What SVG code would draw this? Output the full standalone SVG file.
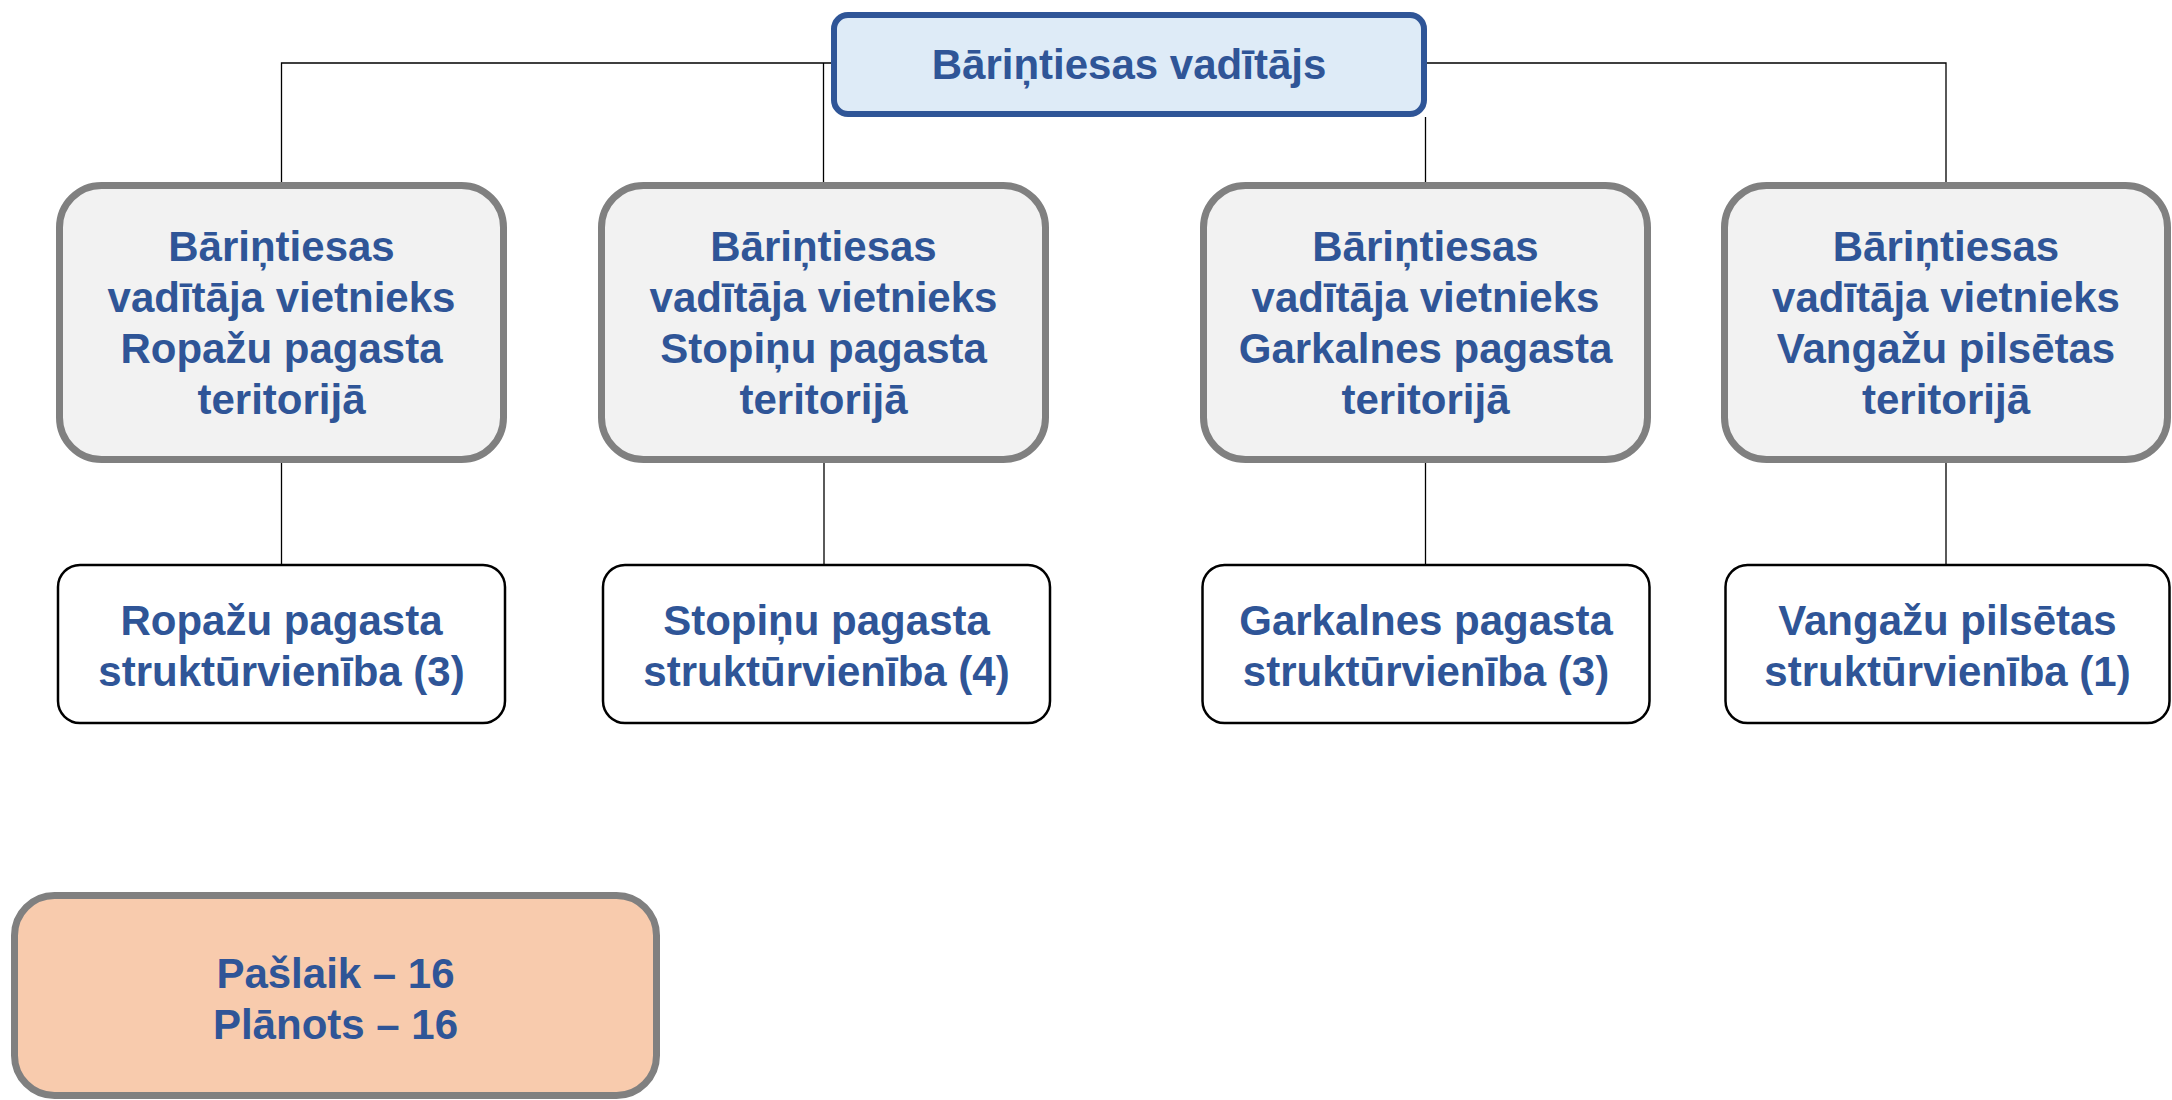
<svg xmlns="http://www.w3.org/2000/svg" width="2172" height="1100" viewBox="0 0 2172 1100">
<style>
.t{font-family:"Liberation Sans",Arial,sans-serif;font-weight:bold;font-size:42px;fill:#2F5597;text-anchor:middle}
.mid{fill:#F2F2F2;stroke:#808080;stroke-width:7}
.bot{fill:#FFFFFF;stroke:#000000;stroke-width:2.5}
.con{fill:none;stroke:#000000;stroke-width:1.3}
</style>
<rect width="2172" height="1100" fill="#FFFFFF"/>
<g id="connectors">
<path class="con" d="M281.5,184 V63 H834"/>
<path class="con" d="M823.5,184 V63"/>
<path class="con" d="M1424,63 H1946 V184"/>
<path class="con" d="M1425.5,117 V184"/>
<path class="con" d="M281.5,463 V565"/>
<path class="con" d="M824,463 V565"/>
<path class="con" d="M1425.5,463 V565"/>
<path class="con" d="M1946,463 V565"/>
</g>
<g id="head">
<rect x="834" y="15" width="590" height="99" rx="14" fill="#DEEBF7" stroke="#2F5597" stroke-width="6"/>
<text class="t" x="1129" y="79">Bāriņtiesas vadītājs</text>
</g>
<g id="dep-ropazi">
<rect class="mid" x="59.5" y="185.5" width="444" height="274" rx="42"/>
<text class="t" x="281.5" y="261">Bāriņtiesas</text>
<text class="t" x="281.5" y="312">vadītāja vietnieks</text>
<text class="t" x="281.5" y="363">Ropažu pagasta</text>
<text class="t" x="281.5" y="414">teritorijā</text>
</g>
<g id="dep-stopini">
<rect class="mid" x="601.5" y="185.5" width="444" height="274" rx="42"/>
<text class="t" x="823.5" y="261">Bāriņtiesas</text>
<text class="t" x="823.5" y="312">vadītāja vietnieks</text>
<text class="t" x="823.5" y="363">Stopiņu pagasta</text>
<text class="t" x="823.5" y="414">teritorijā</text>
</g>
<g id="dep-garkalne">
<rect class="mid" x="1203.5" y="185.5" width="444" height="274" rx="42"/>
<text class="t" x="1425.5" y="261">Bāriņtiesas</text>
<text class="t" x="1425.5" y="312">vadītāja vietnieks</text>
<text class="t" x="1425.5" y="363">Garkalnes pagasta</text>
<text class="t" x="1425.5" y="414">teritorijā</text>
</g>
<g id="dep-vangazi">
<rect class="mid" x="1724.5" y="185.5" width="443" height="274" rx="42"/>
<text class="t" x="1946" y="261">Bāriņtiesas</text>
<text class="t" x="1946" y="312">vadītāja vietnieks</text>
<text class="t" x="1946" y="363">Vangažu pilsētas</text>
<text class="t" x="1946" y="414">teritorijā</text>
</g>
<g id="unit-ropazi">
<rect class="bot" x="58" y="565" width="447" height="158" rx="22"/>
<text class="t" x="281.5" y="635">Ropažu pagasta</text>
<text class="t" x="281.5" y="686">struktūrvienība (3)</text>
</g>
<g id="unit-stopini">
<rect class="bot" x="603" y="565" width="447" height="158" rx="22"/>
<text class="t" x="826.5" y="635">Stopiņu pagasta</text>
<text class="t" x="826.5" y="686">struktūrvienība (4)</text>
</g>
<g id="unit-garkalne">
<rect class="bot" x="1202.5" y="565" width="447" height="158" rx="22"/>
<text class="t" x="1426" y="635">Garkalnes pagasta</text>
<text class="t" x="1426" y="686">struktūrvienība (3)</text>
</g>
<g id="unit-vangazi">
<rect class="bot" x="1725.5" y="565" width="444" height="158" rx="22"/>
<text class="t" x="1947.5" y="635">Vangažu pilsētas</text>
<text class="t" x="1947.5" y="686">struktūrvienība (1)</text>
</g>
<g id="summary">
<rect x="14.5" y="895.5" width="642" height="200" rx="40" fill="#F8CBAD" stroke="#808080" stroke-width="7"/>
<text class="t" x="335.5" y="988">Pašlaik – 16</text>
<text class="t" x="335.5" y="1039">Plānots – 16</text>
</g>
</svg>
